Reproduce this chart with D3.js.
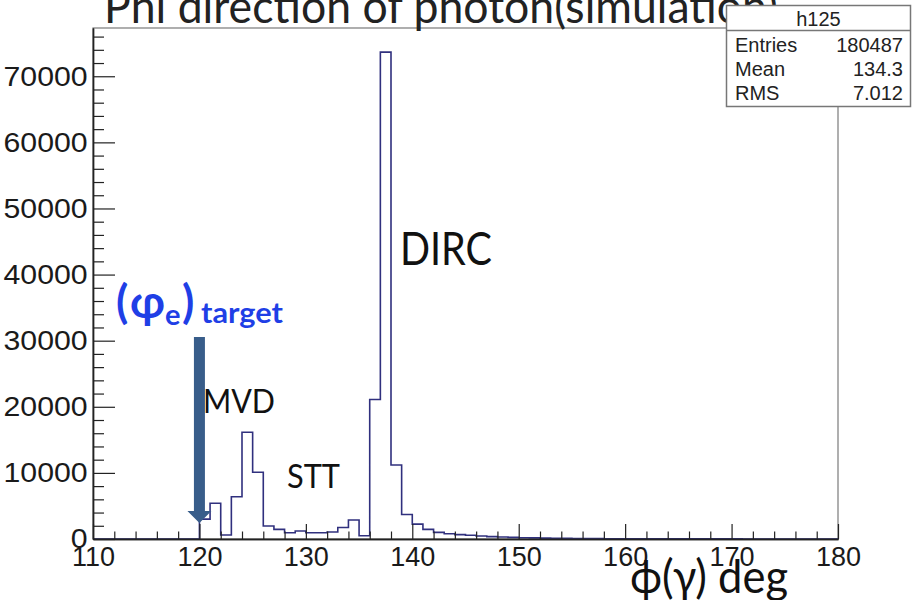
<!DOCTYPE html>
<html>
<head>
<meta charset="utf-8">
<script src="https://cdn.jsdelivr.net/npm/d3@7"></script>
<style>
  html, body { margin: 0; padding: 0; background: #fff; }
  svg { display: block; }
</style>
</head>
<body>
<svg id="chart" width="912" height="600"></svg>
<script>
// ---------- data ----------
const binLow = [110,111,112,113,114,115,116,117,118,119,
                120,121,122,123,124,125,126,127,128,129,
                130,131,132,133,134,135,136,137,138,139,
                140,141,142,143,144,145,146,147,148,149,
                150,151,152,153,154,155,156,157,158,159,
                160,161,162,163,164,165,166,167,168,169,
                170,171,172,173,174,175,176,177,178,179];
const counts = [0,0,0,0,0,0,0,0,0,0,
                3000,5400,600,6400,16150,10100,1970,1450,950,1200,
                950,950,1060,1750,2870,500,21100,73650,11200,3700,
                2250,1450,1000,800,660,560,450,360,300,250,
                200,170,140,120,100,80,65,55,45,40,
                35,30,28,25,22,20,18,16,15,14,
                12,11,10,9,8,8,7,6,6,5];
const binWidth = 1;
const xMajorTicks = [110,120,130,140,150,160,170,180];
const xMinorTicks = [112,114,116,118,122,124,126,128,132,134,136,138,142,144,146,148,
                     152,154,156,158,162,164,166,168,172,174,176,178];
const yMajorTicks = [0,10000,20000,30000,40000,50000,60000,70000];
const yMinorTicks = [2000,4000,6000,8000,12000,14000,16000,18000,22000,24000,26000,28000,
                     32000,34000,36000,38000,42000,44000,46000,48000,52000,54000,56000,58000,
                     62000,64000,66000,68000,72000,74000,76000];
const statLabels = ["Entries","Mean","RMS"];
const statValues = ["180487","134.3","7.012"];
const histName = "h125";
const titleText = "Phi direction of photon(simulation)";
const xTitle = "\u03D5(\u03B3) deg";
const targetPhi = 120;

// ---------- layout ----------
const svg = d3.select("#chart");
const L = 93, R = 838, T = 28, B = 539;
const x = d3.scaleLinear().domain([110,180]).range([L,R]);
const y = d3.scaleLinear().domain([0,77300]).range([B,T]);
const calib = "Lato, Carlito, 'Open Sans', 'DejaVu Sans', sans-serif";
const helv = "'Liberation Sans', Arial, Helvetica, sans-serif";

svg.append("rect").attr("width",912).attr("height",600).attr("fill","#fff");

// frame
svg.append("rect").attr("x",L).attr("y",T).attr("width",R-L).attr("height",B-T)
  .attr("fill","none").attr("stroke","#7a7a7a").attr("stroke-width",1.2);

// histogram outline
const pts = [[binLow[0],0]];
binLow.forEach((b,i)=>{ pts.push([b,counts[i]]); pts.push([b+binWidth,counts[i]]); });
pts.push([binLow[binLow.length-1]+binWidth,0]);
svg.append("path")
  .attr("d", d3.line().x(d=>x(d[0])).y(d=>y(d[1]))(pts))
  .attr("fill","none").attr("stroke","#30307e").attr("stroke-width",1.6);

// y axis
const gy = svg.append("g").attr("transform",`translate(${L},0)`);
gy.call(d3.axisLeft(y).tickValues(yMinorTicks).tickSize(-11).tickSizeOuter(0).tickFormat(""));
const gy2 = svg.append("g").attr("transform",`translate(${L},0)`);
gy2.call(d3.axisLeft(y).tickValues(yMajorTicks).tickSize(-22).tickSizeOuter(0).tickPadding(5).tickFormat(d3.format("d")));
[gy,gy2].forEach(g=>{
  g.selectAll("line").attr("stroke","#222").attr("stroke-width",1.2);
  g.select(".domain").attr("stroke","#222").attr("stroke-width",1.4);
});
gy2.selectAll("text").attr("font-family",helv).attr("font-size",28).attr("fill","#1a1a1a")
  .attr("transform","scale(1.08,1)");

// x axis
const gx = svg.append("g").attr("transform",`translate(0,${B})`);
gx.call(d3.axisBottom(x).tickValues(xMinorTicks).tickSize(-7.5).tickSizeOuter(0).tickFormat(""));
const gx2 = svg.append("g").attr("transform",`translate(0,${B})`);
gx2.call(d3.axisBottom(x).tickValues(xMajorTicks).tickSize(-15).tickSizeOuter(0).tickPadding(8).tickFormat(d3.format("d")));
[gx,gx2].forEach(g=>{
  g.selectAll("line").attr("stroke","#222").attr("stroke-width",1.2);
  g.select(".domain").attr("stroke","#222").attr("stroke-width",1.4);
});
gx2.selectAll("text").attr("font-family",helv).attr("font-size",27).attr("fill","#1a1a1a")
  .attr("dy",null).attr("y",27);

// title (partly cut at the top)
svg.append("text").attr("x",104).attr("y",23).text(titleText)
  .attr("font-family",calib).attr("font-size",47).attr("fill","#222")
  .attr("textLength",674).attr("lengthAdjust","spacingAndGlyphs");

// stats box
const sb = svg.append("g");
sb.append("rect").attr("x",726.5).attr("y",5.5).attr("width",184).attr("height",101)
  .attr("fill","#fff").attr("stroke","#777").attr("stroke-width",1.5);
sb.append("line").attr("x1",726.5).attr("x2",910.5).attr("y1",30.5).attr("y2",30.5)
  .attr("stroke","#777").attr("stroke-width",1.5);
sb.append("text").attr("x",818.5).attr("y",26).attr("text-anchor","middle").text(histName)
  .attr("font-family",helv).attr("font-size",20).attr("fill","#222");
statLabels.forEach((s,i)=>{
  sb.append("text").attr("x",735).attr("y",52+i*24).text(s)
    .attr("font-family",helv).attr("font-size",20).attr("fill","#222");
  sb.append("text").attr("x",903).attr("y",52+i*24).attr("text-anchor","end").text(statValues[i])
    .attr("font-family",helv).attr("font-size",20).attr("fill","#222");
});

// annotations
const blue = "#1f3fe6";
const ann = svg.append("g").attr("font-family",calib).attr("font-weight","bold").attr("fill",blue);
ann.append("text").attr("x",116).attr("y",318).attr("font-size",45).text("(");
ann.append("text").attr("x",130).attr("y",318).attr("font-size",45).text("\u03C6")
  .attr("textLength",35).attr("lengthAdjust","spacingAndGlyphs");
ann.append("text").attr("x",165).attr("y",325).attr("font-size",29).text("e");
ann.append("text").attr("x",182).attr("y",318).attr("font-size",45).text(")");
ann.append("text").attr("x",201).attr("y",323).attr("font-size",28).text("target")
  .attr("textLength",82).attr("lengthAdjust","spacingAndGlyphs");

// arrow pointing at the target angle
const ax = x(targetPhi);
svg.append("path")
  .attr("d",`M${ax-5.5},337 L${ax+5.5},337 L${ax+5.5},511 L${ax+12},511 L${ax},523 L${ax-12},511 L${ax-5.5},511 Z`)
  .attr("fill","#385d8a");

const lbl = svg.append("g").attr("font-family",calib).attr("fill","#111");
lbl.append("text").attr("x",203).attr("y",413).attr("font-size",32).text("MVD")
  .attr("textLength",72).attr("lengthAdjust","spacingAndGlyphs");
lbl.append("text").attr("x",287).attr("y",488).attr("font-size",33).text("STT")
  .attr("textLength",53).attr("lengthAdjust","spacingAndGlyphs");
lbl.append("text").attr("x",400).attr("y",265).attr("font-size",46).text("DIRC")
  .attr("textLength",92).attr("lengthAdjust","spacingAndGlyphs");
lbl.append("text").attr("x",630).attr("y",593).attr("font-size",46).text(xTitle)
  .attr("textLength",158).attr("lengthAdjust","spacingAndGlyphs");
</script>
</body>
</html>
